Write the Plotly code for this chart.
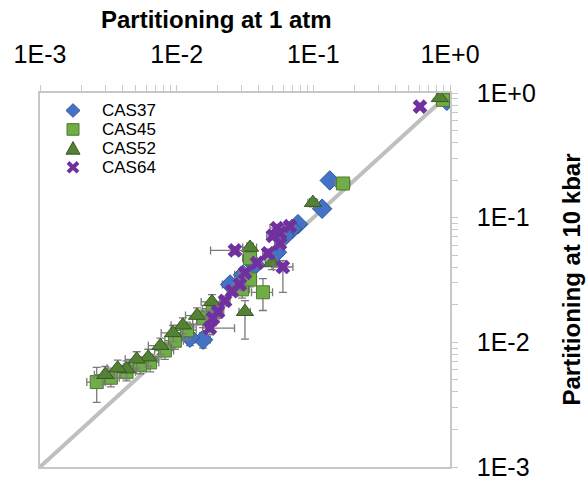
import plotly.graph_objects as go

# ---------------- data ----------------
diag = [1e-3, 1.0]

cas37_x = [0.948, 0.132, 0.116, 0.0772, 0.0697, 0.062, 0.0542, 0.0374, 0.0306, 0.0246, 0.0156, 0.0125]
cas37_y = [0.866, 0.199, 0.118, 0.0887, 0.0811, 0.0715, 0.0527, 0.0417, 0.0349, 0.0291, 0.0105, 0.0109]
cas37_ex = [0, 0.01, 0.01, 0.006, 0.006, 0.005, 0.005, 0.004, 0.004, 0.003, 0.002, 0.002]
cas37_ey = [0, 0.015, 0.01, 0.006, 0.006, 0.005, 0.005, 0.004, 0.004, 0.003, 0.0015, 0.0015]

cas45_x = [0.887, 0.165, 0.0344, 0.0428, 0.0301, 0.0344, 0.0184, 0.0156, 0.0119, 0.0097, 0.0082, 0.0064, 0.0054, 0.0043, 0.0033, 0.0026]
cas45_y = [0.882, 0.188, 0.0473, 0.0252, 0.0266, 0.0319, 0.0186, 0.0156, 0.0125, 0.0103, 0.0086, 0.0069, 0.0066, 0.0058, 0.0052, 0.0048]
cas45_ex = [0, 0.02, 0.004, 0.0075, 0.004, 0.004, 0.003, 0.0025, 0.002, 0.0015, 0.0013, 0.001, 0.0009, 0.0007, 0.0005, 0.0004]
cas45_ey = [0, 0.02, 0.005, 0.0072, 0.004, 0.004, 0.003, 0.0025, 0.002, 0.0015, 0.0013, 0.0011, 0.001, 0.0009, 0.0008, 0.0015]

cas52_x = [0.843, 0.0993, 0.0344, 0.0498, 0.0316, 0.0181, 0.0141, 0.0111, 0.0094, 0.0076, 0.0062, 0.0051, 0.0043, 0.0037, 0.0030]
cas52_y = [0.914, 0.132, 0.0576, 0.0433, 0.0176, 0.0211, 0.0164, 0.0137, 0.0119, 0.0094, 0.0076, 0.0073, 0.0061, 0.0062, 0.0055]
cas52_ex = [0, 0.008, 0.004, 0.005, 0.003, 0.003, 0.0025, 0.002, 0.0017, 0.0014, 0.0011, 0.0009, 0.0008, 0.0006, 0.0005]
cas52_eyp = [0, 0.01, 0.005, 0.005, 0.004, 0.003, 0.0025, 0.002, 0.0018, 0.0014, 0.0012, 0.0011, 0.001, 0.001, 0.0009]
cas52_eym = [0, 0.01, 0.005, 0.005, 0.007, 0.003, 0.0025, 0.002, 0.0018, 0.0014, 0.0012, 0.0011, 0.001, 0.001, 0.0009]

cas64_x = [0.603, 0.0542, 0.0570, 0.0674, 0.0506, 0.0267, 0.0570, 0.0466, 0.0387, 0.0599, 0.0316, 0.0290, 0.0254, 0.0226, 0.0201, 0.0184, 0.0175]
cas64_y = [0.778, 0.0825, 0.0754, 0.0855, 0.0715, 0.0546, 0.0619, 0.0518, 0.0433, 0.0402, 0.0361, 0.0291, 0.0257, 0.0215, 0.0176, 0.0156, 0.0130]
cas64_exp = [0, 0.006, 0.006, 0.006, 0.005, 0.004, 0.005, 0.004, 0.003, 0.011, 0.003, 0.003, 0.002, 0.002, 0.002, 0.002, 0.009]
cas64_exm = [0, 0.006, 0.006, 0.006, 0.005, 0.009, 0.005, 0.004, 0.003, 0.009, 0.003, 0.003, 0.002, 0.002, 0.002, 0.002, 0.002]
cas64_eyp = [0, 0.006, 0.006, 0.006, 0.005, 0.004, 0.005, 0.004, 0.003, 0.005, 0.003, 0.003, 0.002, 0.002, 0.002, 0.002, 0.0015]
cas64_eym = [0, 0.006, 0.006, 0.006, 0.005, 0.004, 0.005, 0.004, 0.003, 0.015, 0.003, 0.003, 0.002, 0.002, 0.002, 0.002, 0.0015]

series_names = ["CAS37", "CAS45", "CAS52", "CAS64"]
x_title = "Partitioning at 1 atm"
y_title = "Partitioning at 10 kbar"
decade_vals = [1e-3, 1e-2, 1e-1, 1e0]
decade_text = ["1E-3", "1E-2", "1E-1", "1E+0"]
minor_mult = [2, 3, 4, 5, 6, 7, 8, 9]

# ---------------- styles ----------------
W, H = 588, 493
ML, MR, MT, MB = 40, 138, 93, 15
PW, PH = W - ML - MR, H - MT - MB

C37, C37L = "#4472C4", "#2F5597"
C45, C45L = "#70AD47", "#4E7A30"
C52, C52L = "#548235", "#375623"
C64 = "#7030A0"
ERR = dict(color="#7A7A7A", thickness=1.3, width=4)
FONT = "Arial, Liberation Sans, sans-serif"


def px(x):
    return (x - ML) / PW


def py(y):
    return (H - MB - y) / PH


tickvals, ticktext = [], []
for i, d in enumerate(decade_vals):
    tickvals.append(d)
    ticktext.append(decade_text[i])
    if i < len(decade_vals) - 1:
        for m in minor_mult:
            tickvals.append(d * m)
            ticktext.append("")

fig = go.Figure()
fig.add_trace(go.Scatter(x=diag, y=diag, mode="lines",
                         line=dict(color="#BFBFBF", width=4), hoverinfo="skip", showlegend=False))

fig.add_trace(go.Scatter(
    x=cas37_x, y=cas37_y, mode="markers", name=series_names[0],
    marker=dict(symbol="diamond", size=15, color=C37, line=dict(color=C37L, width=1)),
    error_x=dict(type="data", array=cas37_ex, **ERR),
    error_y=dict(type="data", array=cas37_ey, **ERR)))
fig.add_trace(go.Scatter(
    x=cas45_x, y=cas45_y, mode="markers", name=series_names[1],
    marker=dict(symbol="square", size=13, color=C45, line=dict(color=C45L, width=1)),
    error_x=dict(type="data", array=cas45_ex, **ERR),
    error_y=dict(type="data", array=cas45_ey, **ERR)))
fig.add_trace(go.Scatter(
    x=cas52_x, y=cas52_y, mode="markers", name=series_names[2],
    marker=dict(symbol="triangle-up", size=15, color=C52, line=dict(color=C52L, width=1)),
    error_x=dict(type="data", array=cas52_ex, **ERR),
    error_y=dict(type="data", array=cas52_eyp, arrayminus=cas52_eym, **ERR)))
fig.add_trace(go.Scatter(
    x=cas64_x, y=cas64_y, mode="markers", name=series_names[3],
    marker=dict(symbol="x", size=13, color=C64, line=dict(width=0)),
    error_x=dict(type="data", array=cas64_exp, arrayminus=cas64_exm, **ERR),
    error_y=dict(type="data", array=cas64_eyp, arrayminus=cas64_eym, **ERR)))

axis_common = dict(
    type="log", range=[-3, 0], showgrid=False, zeroline=False,
    showline=True, linecolor="#C8C8C8", linewidth=1.5, mirror=True,
    ticks="outside", ticklen=6, tickcolor="#C8C8C8", tickwidth=1,
    tickmode="array", tickvals=tickvals, ticktext=ticktext,
    tickfont=dict(family=FONT, size=25, color="black"),
)

fig.update_layout(
    width=W, height=H,
    margin=dict(l=ML, r=MR, t=MT, b=MB),
    paper_bgcolor="white", plot_bgcolor="white",
    showlegend=False,
    xaxis=dict(side="top", ticklabelstandoff=12, **axis_common),
    yaxis=dict(side="right", ticklabelstandoff=14, **axis_common),
)

# axis titles as annotations (placed like the original)
fig.add_annotation(x=px(216), y=py(17), xref="paper", yref="paper", text=x_title, showarrow=False,
                   font=dict(family=FONT, size=24, color="black", weight="bold"),
                   xanchor="center", yanchor="middle")
fig.add_annotation(x=px(572), y=py(285), xref="paper", yref="paper", text=y_title, showarrow=False,
                   textangle=-90, font=dict(family=FONT, size=24, color="black", weight="bold"),
                   xanchor="center", yanchor="middle")

# legend: drawn symbols + text, with the tight row spacing of the original
leg_rows = [111, 130.5, 150, 169.5]
mx = 73
shapes = []
# diamond
cy = leg_rows[0]
shapes.append(dict(type="path", xref="paper", yref="paper",
                   path=f"M {px(mx-7)},{py(cy)} L {px(mx)},{py(cy-7)} L {px(mx+7)},{py(cy)} L {px(mx)},{py(cy+7)} Z",
                   fillcolor=C37, line=dict(color=C37L, width=1)))
# square
cy = leg_rows[1]
shapes.append(dict(type="rect", xref="paper", yref="paper",
                   x0=px(mx-6), x1=px(mx+6), y0=py(cy+6), y1=py(cy-6),
                   fillcolor=C45, line=dict(color=C45L, width=1)))
# triangle
cy = leg_rows[2]
shapes.append(dict(type="path", xref="paper", yref="paper",
                   path=f"M {px(mx-7)},{py(cy+6)} L {px(mx)},{py(cy-7)} L {px(mx+7)},{py(cy+6)} Z",
                   fillcolor=C52, line=dict(color=C52L, width=1)))
# x
cy = leg_rows[3]
for sgn in (-1, 1):
    shapes.append(dict(type="line", xref="paper", yref="paper",
                       x0=px(mx-5), x1=px(mx+5), y0=py(cy-5*sgn), y1=py(cy+5*sgn),
                       line=dict(color=C64, width=4)))
fig.update_layout(shapes=shapes)

for i in range(4):
    fig.add_annotation(x=px(101), y=py(leg_rows[i]), xref="paper", yref="paper", text=series_names[i],
                       showarrow=False, borderpad=0, font=dict(family=FONT, size=17, color="black"),
                       xanchor="left", yanchor="middle")

fig.write_html("out.html")
